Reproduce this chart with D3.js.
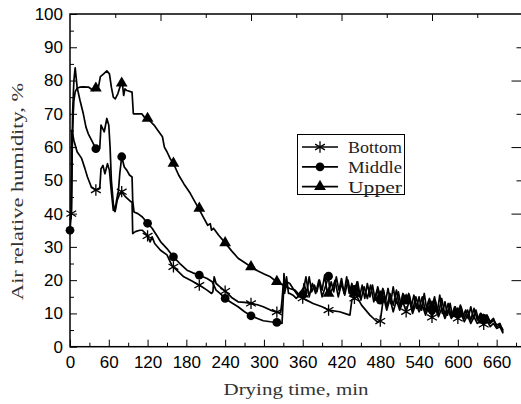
<!DOCTYPE html>
<html>
<head>
<meta charset="utf-8">
<script src="https://cdn.jsdelivr.net/npm/d3@7"></script>
<style>
  body { margin: 0; background: #fff; }
  svg { display: block; }
</style>
</head>
<body>
<div id="container"></div>
<script>
// drying time (min) vs air relative humidity (%)
const bottom = [[2,40],[3,65],[4,64],[6,62],[11,58.6],[18,56.6],[23,53.6],[27,51],[33,48],[40,47.1],[46,47.5],[48,53.5],[51,54.5],[54,52],[58,55],[61,53],[64,46.5],[67,41],[70,40.8],[73,44],[76,45.5],[80,46.6],[86,45],[94,43.6],[96,43.5],[97,34],[101,34.6],[108,35],[112,35],[117,34],[120,33.3],[124,31.5],[127,33],[131,31],[140,29],[150,27.6],[158,24.3],[168,22.5],[176,21],[188,19.8],[200,18.5],[212,17],[219,16],[221,16.5],[223,21],[226,19],[232,18],[240,16.7],[250,14.8],[260,13.5],[270,13.3],[280,13],[290,12.6],[299,12],[310,11],[320,10.4],[326,10.3],[328,14],[330,19],[332,16],[335,19.5],[340,19],[345,17.5],[352,15.5],[360,14.6],[376,13],[390,12],[400,11],[417,10.5],[433,9.5],[436,14],[439,14.5],[441,17],[444,15],[451,12.5],[464,9.5],[475,7.5],[480,7.7],[485,15],[490,11],[495,14.5],[500,10.5],[505,14],[510,11],[515,13.5],[520,10.5],[525,14],[530,10],[535,13],[540,10.5],[545,12.5],[550,9.5],[555,12],[560,8.8],[565,12],[570,9],[575,11.5],[580,8.5],[585,11],[590,8.5],[595,10.5],[600,8.5],[605,10],[610,7.5],[615,9.5],[620,7],[625,9],[630,7],[635,8],[640,6.7],[645,8],[650,6],[655,7],[660,5.5],[665,6],[670,4]];
const middle = [[0,35],[2,40],[4,70],[6,80],[8,83.8],[11,78],[15.5,74],[20.6,70],[24.7,66],[28.3,64],[33.5,62],[40,59.5],[46,59.6],[48,66.6],[53,64.6],[57,68.6],[60,66.6],[62,60],[64,50],[67,43],[69.5,40.6],[72,44],[75,47],[77,52],[80,57.1],[84,54],[88,53],[92,51.6],[96,51],[97,44],[99,40.5],[105,40],[112,39],[120,37.1],[127,35.6],[134,33.5],[140,31.6],[150,29.5],[160,27],[170,25],[181,23],[190,22.2],[200,21.5],[212,20.5],[220,19.5],[226,17],[232,16],[240,14.5],[250,13.2],[260,12],[270,10.5],[280,9.3],[290,8.5],[299,7.8],[310,7.5],[320,7.3],[328,7],[330,15],[331,22],[333,17],[335,21],[338,16],[340,16],[345,15.5],[350,14.5],[355,15.5],[360,15.7],[365,21],[370,15],[375,19],[380,16],[385,20],[390,15],[395,18],[400,21.2],[402,16],[405,17],[410,20],[415,15],[420,19],[425,15.5],[430,20],[435,15],[440,17.2],[445,19.5],[450,14],[455,18],[460,14.5],[465,18.5],[470,13.5],[475,17],[480,14],[485,17],[490,12],[495,16],[500,12.5],[505,17],[510,12],[515,16],[520,14],[525,15.5],[530,11],[535,15],[540,11.5],[545,15],[550,10.5],[555,14],[560,11],[565,14],[570,10],[575,14.5],[580,9.5],[585,13],[590,9],[595,12],[600,10],[605,12],[610,8.5],[615,11],[620,8],[625,11.5],[630,8],[635,10],[640,8.5],[645,9.5],[650,7],[655,8],[660,6.5],[665,7],[670,4.5]];
const upper = [[0,38],[2,40],[3,55],[4,64],[5,70],[6,74],[8,76.6],[11,77.7],[15,78],[20,78.1],[29,78],[36,77],[40,77.7],[44,78],[47,81.2],[52,82],[57,82.9],[61,82],[64,78],[67,75],[70,74.5],[74,76],[78,78.5],[81,79.2],[83,75.5],[85,77.5],[88,77],[96,76.5],[98,70],[105,70],[111,70],[115,69],[120,68.6],[130,66.6],[136,65],[143,63.1],[146,60],[150,58.6],[155,56.5],[160,55.1],[168,51.6],[176,49],[186,46.1],[192,44],[199,41.6],[206,39],[213,36.5],[217,37],[219,35],[222,35.6],[230,33.5],[240,31.2],[250,28.8],[260,26.6],[270,25.3],[280,24],[290,22.8],[301,21.8],[310,21],[319,19.6],[330,18.5],[340,17.5],[348,17],[355,15.5],[360,15.8],[362,19],[366,16],[370,21],[374,16.5],[378,18.5],[382,16.5],[386,20],[390,17],[394,21.5],[398,16],[400,16],[404,19.5],[408,16.5],[412,21],[416,17],[420,20.5],[424,16],[428,21],[432,16],[436,19],[440,16],[444,19.5],[448,15],[452,18.5],[456,14.5],[460,19],[464,15],[468,18.5],[472,14],[476,18],[480,15],[484,17.5],[488,13.5],[492,17.5],[496,13],[500,18],[504,13],[508,16.5],[512,12.5],[516,15.5],[520,14],[524,16],[528,12],[532,15.5],[536,11.5],[540,15],[544,11],[548,16],[552,11],[556,14.5],[560,12],[564,15],[568,10],[572,15.5],[576,10],[580,13.5],[584,9.5],[588,13],[592,9],[596,12],[600,10],[604,12.5],[608,9],[612,11],[616,8.5],[620,12],[624,8.5],[628,11],[632,8],[636,10],[640,8],[645,9.5],[650,7.5],[655,8.5],[660,6],[665,6.5],[670,5]];

// symbols sit every 40 min
const bottomMarks = [[2,40],[40,47.1],[80,46.6],[120,33.3],[160,24],[200,18.5],[240,16.7],[280,13],[320,10.4],[360,14.6],[400,11],[440,14.5],[480,7.7],[520,10.5],[560,8.8],[600,8.5],[640,6.7]];
const middleMarks = [[0,35],[40,59.5],[80,57.1],[120,37.1],[160,27],[200,21.5],[240,14.5],[280,9.3],[320,7.3],[360,15.7],[400,21.2],[440,17.2],[480,14],[520,14],[560,11],[600,10],[640,8.5]];
const upperMarks = [[40,77.7],[80,79.2],[120,68.6],[160,55.1],[200,41.6],[240,31.2],[280,24],[320,19.6],[360,15.8],[400,16],[440,16],[480,15],[520,14],[560,12],[600,10],[640,8]];

const seriesNames = ["Bottom", "Middle", "Upper"];
const xTicks = d3.range(0, 661, 60);
const yTicks = d3.range(0, 101, 10);

const width = 521, height = 404;
const xMax = 700;
const margin = ({top: 14, bottom: 57.3, left: 70});
// the x axis runs past the right edge of the picture
const x = d3.scaleLinear([0, xMax], [margin.left, 522.5]);
const y = d3.scaleLinear([0, 100], [height - margin.bottom, margin.top]);

const svg = d3.select("#container").append("svg")
    .attr("width", width).attr("height", height)
    .attr("viewBox", [0, 0, width, height]);

const tickFont = g => g
    .attr("font-family", "'Liberation Sans', Arial, sans-serif")
    .attr("font-size", 17)
    .call(g => g.select(".domain").remove())
    .call(g => g.selectAll("line").attr("stroke", "#000"))
    .call(g => g.selectAll("text").attr("fill", "#000"));

// bottom axis, labelled every 60
svg.append("g")
    .attr("transform", `translate(0,${y(0)})`)
    .call(d3.axisBottom(x).tickValues(xTicks).tickSize(-7).tickPadding(9))
    .call(tickFont);
svg.append("g")
    .attr("transform", `translate(0,${y(0)})`)
    .call(d3.axisBottom(x).tickValues(d3.range(30, xMax, 60)).tickSize(-4).tickFormat(""))
    .call(tickFont);

// left axis
svg.append("g")
    .attr("transform", `translate(${x(0)},0)`)
    .call(d3.axisLeft(y).tickValues(yTicks).tickSize(-7).tickPadding(7))
    .call(tickFont);
svg.append("g")
    .attr("transform", `translate(${x(0)},0)`)
    .call(d3.axisLeft(y).tickValues(d3.range(5, 100, 10)).tickSize(-4).tickFormat(""))
    .call(tickFont);

// top and right mirror axes keep their own default ticks
svg.append("g")
    .attr("transform", `translate(0,${y(100)})`)
    .call(d3.axisTop(x).tickValues(d3.range(140, xMax, 140)).tickSize(-7).tickFormat(""))
    .call(tickFont);
svg.append("g")
    .attr("transform", `translate(0,${y(100)})`)
    .call(d3.axisTop(x).tickValues(d3.range(70, xMax, 140)).tickSize(-4).tickFormat(""))
    .call(tickFont);
svg.append("g")
    .attr("transform", `translate(${x(xMax)},0)`)
    .call(d3.axisRight(y).tickValues(d3.range(20, 100, 20)).tickSize(-11).tickFormat(""))
    .call(tickFont);
svg.append("g")
    .attr("transform", `translate(${x(xMax)},0)`)
    .call(d3.axisRight(y).tickValues(d3.range(10, 100, 20)).tickSize(-6).tickFormat(""))
    .call(tickFont);

svg.append("rect")
    .attr("x", x(0)).attr("y", y(100))
    .attr("width", x(xMax) - x(0)).attr("height", y(0) - y(100))
    .attr("fill", "none").attr("stroke", "#000").attr("stroke-width", 1.5);

const line = d3.line().x(d => x(d[0])).y(d => y(d[1]));

const plot = svg.append("g");
[bottom, middle, upper].forEach(s => {
  plot.append("path")
      .datum(s)
      .attr("fill", "none")
      .attr("stroke", "#000")
      .attr("stroke-width", 1.7)
      .attr("stroke-linejoin", "round")
      .attr("d", line);
});

const star = d3.symbol(d3.symbolAsterisk, 90);
const dot = d3.symbol(d3.symbolCircle, 60);
const tri = d3.symbol(d3.symbolTriangle, 60);

plot.append("g").selectAll("path").data(bottomMarks).join("path")
    .attr("transform", d => `translate(${x(d[0])},${y(d[1])})`)
    .attr("d", star).attr("fill", "none").attr("stroke", "#000").attr("stroke-width", 1.3);
plot.append("g").selectAll("path").data(middleMarks).join("path")
    .attr("transform", d => `translate(${x(d[0])},${y(d[1])})`)
    .attr("d", dot).attr("fill", "#000");
plot.append("g").selectAll("path").data(upperMarks).join("path")
    .attr("transform", d => `translate(${x(d[0])},${y(d[1])})`)
    .attr("d", tri).attr("fill", "#000");

// axis titles, serif glyphs stretched to the monospaced width
const serif = "'Liberation Serif', 'DejaVu Serif', serif";
svg.append("text")
    .attr("x", 296).attr("y", 395)
    .attr("text-anchor", "middle")
    .attr("font-family", serif).attr("font-size", 17)
    .attr("textLength", 145).attr("lengthAdjust", "spacingAndGlyphs")
    .attr("fill", "#333")
    .text("Drying time, min");
svg.append("text")
    .attr("transform", "translate(23,191.5) rotate(-90)")
    .attr("text-anchor", "middle")
    .attr("font-family", serif).attr("font-size", 17)
    .attr("textLength", 217).attr("lengthAdjust", "spacingAndGlyphs")
    .attr("fill", "#333")
    .text("Air relative humidity, %");

// legend
const legend = svg.append("g");
legend.append("rect")
    .attr("x", 297.5).attr("y", 134.5).attr("width", 107).attr("height", 60)
    .attr("fill", "#fff").attr("stroke", "#000").attr("stroke-width", 1);
const symbols = [star, dot, tri];
seriesNames.forEach((name, i) => {
  const cy = 147 + i * 19.8;
  legend.append("line")
      .attr("x1", 302).attr("x2", 338).attr("y1", cy).attr("y2", cy)
      .attr("stroke", "#000").attr("stroke-width", 1.7);
  legend.append("path")
      .attr("transform", `translate(320,${cy})`)
      .attr("d", symbols[i])
      .attr("fill", i === 0 ? "none" : "#000")
      .attr("stroke", "#000").attr("stroke-width", i === 0 ? 1.3 : 0);
  legend.append("text")
      .attr("x", 348).attr("y", cy + 6.3)
      .attr("font-family", serif).attr("font-size", 17)
      .attr("textLength", 54).attr("lengthAdjust", "spacingAndGlyphs")
      .attr("fill", "#222")
      .text(name);
});
</script>
</body>
</html>
